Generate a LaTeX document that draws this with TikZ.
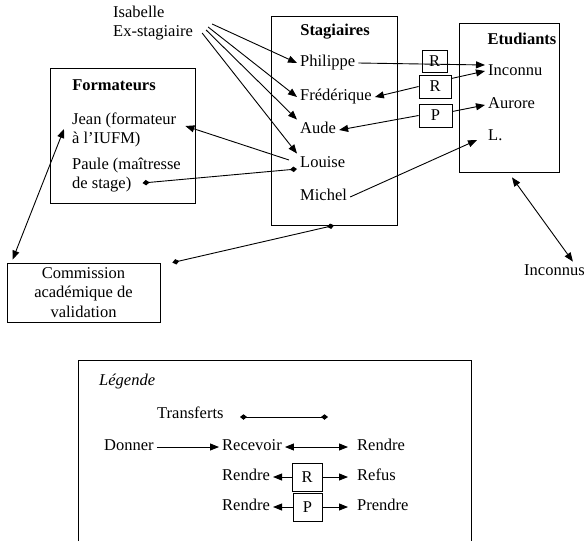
\documentclass[tikz,border=0pt]{standalone}
\usepackage{fontspec}
\setmainfont{Liberation Serif}
\usetikzlibrary{arrows.meta}
\newcommand\taille{\fontsize{16.5}{19.5}\selectfont}
\tikzset{
  boite/.style={draw,line width=0.8pt,inner sep=0pt},
  titre/.style={font=\taille\bfseries,inner sep=0pt},
  elt/.style={anchor=west,inner sep=3pt,text height=11pt,text depth=3.5pt},
  lettre/.style={draw,line width=0.8pt,inner sep=0pt,minimum height=22pt},
  fl/.style={-{Triangle[length=9pt,width=7pt]},line width=0.9pt},
  dfl/.style={{Triangle[length=9pt,width=7pt]}-{Triangle[length=9pt,width=7pt]},line width=0.9pt},
  trans/.style={{Diamond[length=7pt,width=5.5pt]}-{Diamond[length=7pt,width=5.5pt]},line width=0.9pt},
}
\begin{document}
\begin{tikzpicture}[x=1pt,y=-1pt,font=\taille]
  \useasboundingbox (0,0) rectangle (585,541);
  \node[boite,minimum width=126pt,minimum height=209pt] (stag) at (334,120.5) {};
  \node[boite,minimum width=100pt,minimum height=149pt] (etud) at (509,97.5) {};
  \node[boite,minimum width=145pt,minimum height=135pt] (form) at (122.5,135.5) {};
  \node[boite,minimum width=153pt,minimum height=59pt,align=center] (comm) at (83.5,292.5)
    {Commission\\académique de\\validation};
  \node[titre] at (335,32) {Stagiaires};
  \node[titre] at (522,39) {Etudiants};
  \node[titre] at (114,85) {Formateurs};
  \node[anchor=west,align=left,inner sep=3pt] (isa) at (110,23) {Isabelle\\Ex-stagiaire};
  \foreach \n/\t/\y in {phil/Philippe/63, fred/Frédérique/97, aude/Aude/130, louise/Louise/164, michel/Michel/197}{
    \node[elt] (\n) at (297,\y) {\t};}
  \foreach \n/\t/\y in {inco/Inconnu/72, aur/Aurore/105, lpt/L./137}{
    \node[elt] (\n) at (485,\y) {\t};}
  \foreach \n/\t/\y in {jean/Jean (formateur/121, iufm/à l’IUFM)/140, paule/Paule (maîtresse/166, stage/de stage)/185}{
    \node[elt] (\n) at (69,\y) {\t};}
  \node[elt] (inconnus) at (521,272) {Inconnus};
  \node[lettre,minimum width=25pt] (r1) at (434.5,61) {R};
  \node[lettre,minimum width=32pt,minimum height=23pt] (r2) at (435,86.5) {R};
  \node[lettre,minimum width=33pt,minimum height=23pt] (p1) at (435.5,115.5) {P};
  \foreach \dx/\dy/\n in {16/1/phil.west, 12/4/fred.west, 10/7/aude.north west, 6/10/louise.north west}
    \draw[fl] ([shift={(\dx,\dy)}]isa.east) -- (\n);
  \draw[fl] (phil.east) -- ([yshift=7pt]inco.west);
  \draw[fl] (r2.west) -- (fred.east);
  \draw[fl] ([yshift=8pt]r2.east) -- ([yshift=1pt]inco.west);
  \draw[fl] (p1.west) -- (aude.east);
  \draw[fl] ([yshift=4pt]p1.east) -- (aur.west);
  \draw[fl] (michel.east) -- ([xshift=-8pt,yshift=-3pt]lpt.west);
  \draw[fl] ([xshift=-8pt,yshift=4pt]louise.west) -- ([xshift=6pt,yshift=-5pt]jean.east);
  \draw[trans] ([yshift=-5pt]louise.west) -- ([xshift=8pt,yshift=2pt]stage.east);
  \draw[dfl] ([xshift=-5pt,yshift=-8pt]jean.west) -- ([xshift=6pt,yshift=3pt]comm.north west);
  \draw[trans] ([xshift=12pt]comm.north east) -- (stag.south);
  \draw[dfl] ([xshift=3pt,yshift=-5pt]etud.south) -- ([xshift=-15pt]inconnus.north east);
  \draw[line width=0.8pt] (78,541) |- (471,360) -- (471,541);
  \node[elt,font=\taille\itshape] (leg) at (96,382) {Légende};
  \node[elt] (transf) at (154,415) {Transferts};
  \coordinate (t1) at (240,417);
  \coordinate (t2) at (328,417);
  \draw[trans] (t1) -- (t2);
  \node[elt] (donner) at (101,447) {Donner};
  \node[elt] (recev) at (219,447) {Recevoir};
  \node[elt] (rendre) at (354,447) {Rendre};
  \node[elt] (rendreb) at (219,477) {Rendre};
  \node[elt] (refus) at (354,477) {Refus};
  \node[elt] (rendrec) at (219,507) {Rendre};
  \node[elt] (prendre) at (354,507) {Prendre};
  \node[lettre,minimum width=30pt,minimum height=28pt] (rleg) at (307,477) {R};
  \node[lettre,minimum width=29pt,minimum height=28pt] (pleg) at (307.5,507) {P};
  \draw[fl] (donner) -- (recev);
  \draw[dfl,shorten >=6pt] (recev) -- (rendre);
  \draw[fl] (rleg) -- (rendreb);
  \draw[fl,shorten >=6pt] (rleg) -- (refus);
  \draw[fl] (pleg) -- (rendrec);
  \draw[fl,shorten >=6pt] (pleg) -- (prendre);
\end{tikzpicture}
\end{document}
